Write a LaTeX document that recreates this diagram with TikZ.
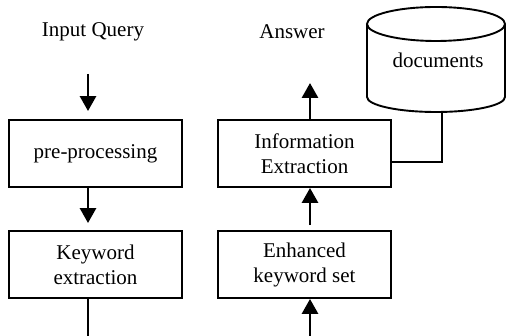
\documentclass[tikz,border=0pt]{standalone}
\usepackage{fontspec}
\setmainfont{Liberation Serif}
\usetikzlibrary{arrows.meta}
\begin{document}
\begin{tikzpicture}[x=1pt,y=1pt,
  txt/.style={font=\fontsize{21}{25}\selectfont, align=center, inner sep=0pt},
  procbox/.style={txt, draw, line width=1.9pt, minimum width=173pt, minimum height=67pt},
  arr/.style={line width=2.9pt, -{Triangle[width=16pt,length=15pt]}},
  plain/.style={line width=1.9pt}]
\useasboundingbox (0,0) rectangle (506,336);
% boxes
\node[procbox] (pre) at (95.5,182.5) {pre-processing};
\node[procbox] (kw) at (95.5,71.5) {Keyword\\extraction};
\node[procbox] (info) at (304.5,182.5) {Information\\Extraction};
\node[procbox] (enh) at (304.5,71.5) {Enhanced\\keyword set};
% labels
\node[txt] (inq) at (93,304) {Input Query};
\node[txt] (ans) at (292,304) {Answer};
% cylinder
\draw[plain] (367,312) -- (367,239) arc[start angle=180, end angle=360, x radius=69, y radius=15] -- (505,312);
\draw[plain] (436,312) ellipse[x radius=69, y radius=17];
\node[txt] (docs) at (438,276) {documents};
\coordinate (dbot) at (442,224);
% coordinates
\coordinate (q) at (88,262);
\coordinate (qend) at (88,0);
\coordinate (b) at (310,0);
\coordinate (a) at (310,253);
% connectors
\draw[arr, shorten >=8pt] (q) -- (q |- pre.north);
\draw[arr, shorten >=7pt] (q |- pre.south) -- (q |- kw.north);
\draw[plain] (q |- kw.south) -- (qend);
\draw[arr] (b) -- (b |- enh.south);
\draw[arr, shorten <=5pt] (b |- enh.north) -- (b |- info.south);
\draw[arr] (a |- info.north) -- (a);
\draw[plain] (dbot) -- (442,174) -- ([yshift=-8.5pt]info.east);
\end{tikzpicture}
\end{document}
